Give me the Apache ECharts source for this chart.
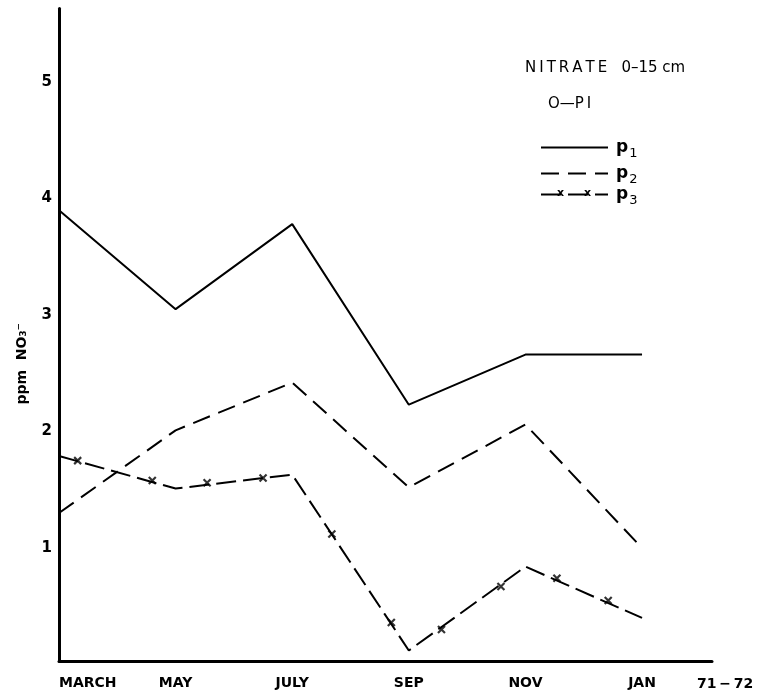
<!DOCTYPE html>
<html>
<head>
<meta charset="utf-8">
<script src="https://cdn.jsdelivr.net/npm/echarts@6/dist/echarts.min.js"></script>
<style>
html,body{margin:0;padding:0;background:#fff;}
#chart{width:759px;height:695px;}
</style>
</head>
<body>
<div id="chart"></div>
<script>
// ---- data ----
var months = ['MARCH', 'MAY', 'JULY', 'SEP', 'NOV', 'JAN'];
var yTicks = [1, 2, 3, 4, 5];
var p1 = [3.87, 3.02, 3.75, 2.20, 2.63, 2.63];
var p2 = [1.27, 1.98, 2.39, 1.49, 2.03, 0.97];
var p3 = [1.76, 1.48, 1.60, 0.09, 0.81, 0.37];
// decorative "x" marks drawn along the p3 line (position in month steps, value)
var p3MarkPos = [0.16, 0.80, 1.27, 1.75, 2.34, 2.85, 3.28, 3.79, 4.27, 4.71];
var p3MarkVal = [1.72, 1.55, 1.53, 1.57, 1.09, 0.33, 0.27, 0.64, 0.71, 0.52];
var seriesNames = ['p1', 'p2', 'p3'];
var yearLabel = '71\u2009\u2212\u200972';

function pairs(vals) { return vals.map(function (v, i) { return [i, v]; }); }
function markPairs() { return p3MarkPos.map(function (x, i) { return [x, p3MarkVal[i]]; }); }

var FONT = 'DejaVu Sans';
var chart = echarts.init(document.getElementById('chart'), null, { renderer: 'canvas' });

function legendFor(name, top) {
  return {
    data: [name], orient: 'vertical', left: 540, top: top, padding: 0,
    itemWidth: 67, itemHeight: 14, selectedMode: false,
    itemStyle: { opacity: 0 },
    formatter: function (n) { return '{b|' + n.charAt(0) + '}{s|' + n.slice(1) + '}'; },
    textStyle: {
      color: '#000', fontFamily: FONT,
      rich: {
        b: { fontSize: 17, fontWeight: 'bold', fontFamily: FONT, color: '#000', padding: [0, 0, 0, 3] },
        s: { fontSize: 13, fontFamily: FONT, color: '#000', padding: [12, 0, 0, 1] }
      }
    }
  };
}

var option = {
  animation: false,
  backgroundColor: '#fff',
  title: [
    { text: 'N\u2009I\u2009T\u2009R\u2009A\u2009T\u2009E   0\u201315 cm', left: 525, top: 61, padding: 0,
      textStyle: { fontFamily: FONT, fontSize: 15, fontWeight: 'normal', color: '#000' } },
    { text: 'O\u2014P\u2009I', left: 548, top: 97, padding: 0,
      textStyle: { fontFamily: FONT, fontSize: 15, fontWeight: 'normal', color: '#000' } }
  ],
  legend: [legendFor('p1', 139), legendFor('p2', 165), legendFor('p3', 186)],
  grid: { left: 59, right: 47, top: 8.6, bottom: 34, containLabel: false, outerBoundsMode: 'none' },
  xAxis: {
    type: 'value', min: 0, max: 5.6, interval: 1,
    name: yearLabel, nameLocation: 'end', nameGap: -15,
    nameTextStyle: { fontFamily: FONT, fontSize: 14, fontWeight: 'bold', color: '#000', verticalAlign: 'top', padding: [16, 0, 0, 0] },
    axisLine: { show: true, lineStyle: { color: '#000', width: 3 } },
    axisTick: { show: false },
    splitLine: { show: false },
    axisLabel: {
      margin: 15, fontFamily: FONT, fontSize: 14, fontWeight: 'bold', color: '#000',
      alignMinLabel: 'left',
      formatter: function (v) { return (Number.isInteger(v) && months[v]) ? months[v] : ''; }
    }
  },
  yAxis: {
    type: 'value', min: 0, max: 5.6, interval: 1,
    name: 'ppm  NO\u2083\u207B', nameLocation: 'middle', nameRotate: 90, nameGap: 30,
    nameTextStyle: { fontFamily: FONT, fontSize: 14, fontWeight: 'bold', color: '#000', padding: [0, 58, 0, 0] },
    axisLine: { show: true, lineStyle: { color: '#000', width: 3 } },
    axisTick: { show: false },
    splitLine: { show: false },
    axisLabel: {
      margin: 7, fontFamily: FONT, fontSize: 15, fontWeight: 'bold', color: '#000',
      formatter: function (v) { return yTicks.indexOf(v) >= 0 ? '{t|' + v + '}' : ''; },
      rich: { t: { fontFamily: FONT, fontSize: 15, fontWeight: 'bold', color: '#000', padding: [7, 0, 0, 0] } }
    }
  },
  series: [
    { name: seriesNames[0], type: 'line', data: pairs(p1), symbol: 'none',
      lineStyle: { color: '#000', width: 2, type: 'solid' }, itemStyle: { color: '#000' } },
    { name: seriesNames[1], type: 'line', data: pairs(p2), symbol: 'none',
      lineStyle: { color: '#000', width: 2, type: [18, 9] }, itemStyle: { color: '#000' } },
    { name: seriesNames[2], type: 'line', data: pairs(p3), symbol: 'none',
      lineStyle: { color: '#000', width: 2, type: [20, 7] }, itemStyle: { color: '#000' } },
    { name: 'p3 marks', type: 'scatter', data: markPairs(),
      symbol: 'path://M0,0L10,10M10,0L0,10', symbolSize: 7,
      itemStyle: { color: 'none', borderColor: '#000', borderWidth: 2.2 }, z: 5 }
  ],
  graphic: [
    { type: 'text', left: 557, top: 188, style: { text: 'x', font: 'bold 11px ' + FONT, fill: '#000' } },
    { type: 'text', left: 584, top: 188, style: { text: 'x', font: 'bold 11px ' + FONT, fill: '#000' } }
  ]
};
chart.setOption(option);
</script>
</body>
</html>
